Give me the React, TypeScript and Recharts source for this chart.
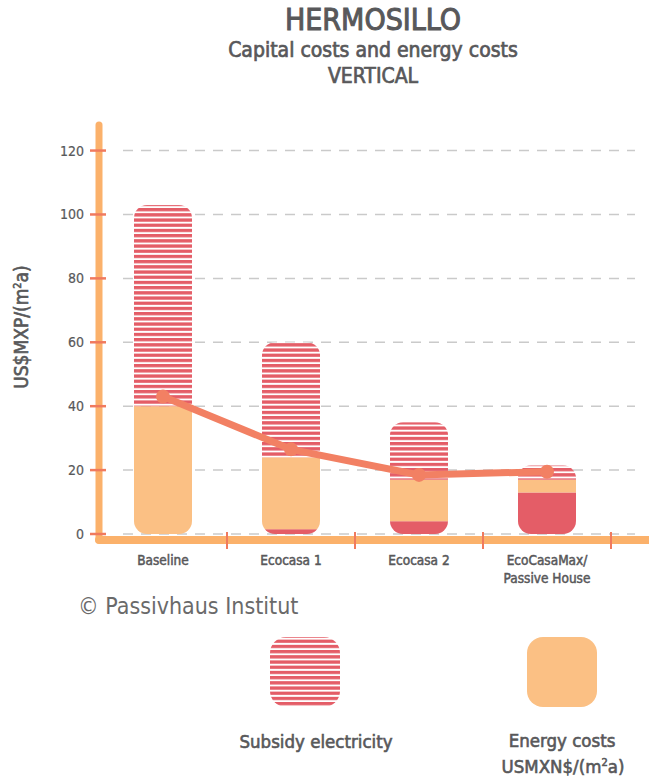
import React from 'react';
import { ComposedChart, Bar, Line, XAxis, YAxis, CartesianGrid } from 'recharts';

// values (US$MXP / m²a)
const categories = ['Baseline', 'Ecocasa 1', 'Ecocasa 2', 'EcoCasaMax/\nPassive House'];
const capitalCosts = [0, 1.5, 4, 13];
const energyCosts = [40, 22.5, 13, 4];
const subsidyElectricity = [63, 36, 18, 4.5];
const totalLine = [43, 26.5, 18.5, 19.5];
const yTicks = [0, 20, 40, 60, 80, 100, 120];

const RED = '#e45d67';
const ORANGE = '#fbc084';
const LINE = '#f28063';
const AXIS = '#fbb16b';
const TICK = '#f07a5e';
const TEXT = '#58585a';
const FONT = "'DejaVu Sans Condensed', 'Liberation Sans Narrow', 'Roboto', sans-serif";

const stackKeys = ['capital', 'energy', 'subsidy'];

const data = categories.map((name, i) => ({
  name,
  capital: capitalCosts[i],
  energy: energyCosts[i],
  subsidy: subsidyElectricity[i],
  total: totalLine[i],
}));

// each segment is clipped by a rounded rect spanning the whole stack
const stackSegment = (key: string, fill: string) => (p: any) => {
  const { x, y, width, height, payload, index } = p;
  const value = payload[key];
  if (!value || !height || height <= 0) return <g />;
  const ppu = height / value;
  const pos = stackKeys.indexOf(key);
  const below = stackKeys.slice(0, pos).reduce((s, k) => s + payload[k], 0);
  const above = stackKeys.slice(pos + 1).reduce((s, k) => s + payload[k], 0);
  const top = y - above * ppu;
  const bottom = y + height + below * ppu;
  const id = `clip-${key}-${index}`;
  return (
    <g>
      <defs>
        <clipPath id={id}>
          <rect x={x} y={top} width={width} height={bottom - top} rx={13} ry={13} />
        </clipPath>
      </defs>
      <rect x={x} y={y} width={width} height={height} fill={fill} clipPath={`url(#${id})`} />
    </g>
  );
};

const YTick = ({ x, y, payload }: any) => (
  <g>
    <line x1={x - 9} x2={x + 7} y1={y} y2={y} stroke={TICK} strokeWidth={2.5} />
    <text x={x - 15} y={y} dy={5} textAnchor="end" fill={TEXT} stroke={TEXT} strokeWidth={0.2} fontSize={14} fontFamily={FONT}>
      {payload.value}
    </text>
  </g>
);

const XTick = ({ x, y, payload }: any) => {
  const lines = String(payload.value).split('\n');
  const off = payload.offset ?? 64;
  return (
    <g>
      <line x1={x + off} x2={x + off} y1={y - 8} y2={y + 9} stroke={TICK} strokeWidth={2} />
      <text x={x} y={y + 25} textAnchor="middle" fill={TEXT} stroke={TEXT} strokeWidth={0.5} fontSize={13.5} fontFamily={FONT}>
        {lines.map((l, i) => (
          <tspan key={i} x={x} dy={i ? 18 : 0}>{l}</tspan>
        ))}
      </text>
    </g>
  );
};

// dashed grid, inset from the plot edges; skip the line at the domain top
const gridLine = (p: any) => {
  if (Math.abs(p.y1 - 125) < 3) return <g key={p.key ?? `g-${p.index}`} />;
  return (
    <line
      key={p.key ?? `g-${p.index}`}
      x1={p.x1 + 24}
      x2={p.x2 - 14}
      y1={p.y1}
      y2={p.y2}
      stroke="#cacaca"
      strokeWidth={1.5}
      strokeDasharray="10 8"
    />
  );
};

export default function App() {
  return (
    <div style={{ position: 'absolute', left: 0, top: 0, width: 649, height: 780, background: '#fff', fontFamily: FONT }}>
      <ComposedChart width={649} height={780} data={data} margin={{ top: 125, right: 0, bottom: 190, left: 0 }}>
        <CartesianGrid vertical={false} horizontal={gridLine} />
        <XAxis
          dataKey="name"
          height={50}
          padding={{ left: 0, right: 38 }}
          axisLine={{ stroke: AXIS, strokeWidth: 8, strokeLinecap: 'round' }}
          tickLine={false}
          tickSize={0}
          tickMargin={0}
          interval={0}
          tick={<XTick />}
        />
        <YAxis
          width={99}
          domain={[0, 128]}
          ticks={yTicks}
          interval={0}
          padding={{ top: 0, bottom: 6 }}
          axisLine={{ stroke: AXIS, strokeWidth: 7, strokeLinecap: 'round' }}
          tickLine={false}
          tickSize={0}
          tickMargin={0}
          tick={<YTick />}
        />
        <Bar dataKey="capital" stackId="a" barSize={58} fill={RED} shape={stackSegment('capital', RED)} isAnimationActive={false} />
        <Bar dataKey="energy" stackId="a" barSize={58} fill={ORANGE} shape={stackSegment('energy', ORANGE)} isAnimationActive={false} />
        <Bar dataKey="subsidy" stackId="a" barSize={58} fill="url(#stripes)" shape={stackSegment('subsidy', 'url(#stripes)')} isAnimationActive={false} />
        <Line
          dataKey="total"
          type="linear"
          stroke={LINE}
          strokeWidth={7}
          dot={{ r: 7, fill: LINE, stroke: 'none' }}
          activeDot={false}
          isAnimationActive={false}
        />
      </ComposedChart>

      <svg width={649} height={780} style={{ position: 'absolute', left: 0, top: 0, pointerEvents: 'none' }}>
        <defs>
          <pattern id="stripes" patternUnits="userSpaceOnUse" width={10} height={5.2}>
            <rect x={0} y={0} width={10} height={5.2} fill="#fff" />
            <rect x={0} y={0} width={10} height={3.3} fill={RED} />
          </pattern>
        </defs>

        <g fill={TEXT} stroke={TEXT} fontFamily={FONT} textAnchor="middle">
          <text x={373} y={30} fontSize={30} strokeWidth={1}>HERMOSILLO</text>
          <text x={373} y={57} fontSize={21} strokeWidth={0.7}>Capital costs and energy costs</text>
          <text x={373} y={83} fontSize={21} strokeWidth={0.7}>VERTICAL</text>
        </g>

        <text
          transform="translate(28 327) rotate(-90)"
          textAnchor="middle"
          fill={TEXT}
          stroke={TEXT}
          strokeWidth={0.6}
          fontFamily={FONT}
          fontSize={19}
        >
          US$MXP/(m<tspan fontSize={11} dy={-7}>2</tspan><tspan dy={7}>a)</tspan>
        </text>

        <text x={78} y={614} fill="#6a6a6a" fontFamily={FONT} fontSize={23}>© Passivhaus Institut</text>

        <rect x={270} y={637} width={70} height={70} rx={16} ry={16} fill="url(#stripes)" />
        <rect x={527} y={637} width={70} height={70} rx={16} ry={16} fill={ORANGE} />
        <g fill={TEXT} stroke={TEXT} strokeWidth={0.6} fontFamily={FONT} fontSize={18.5} textAnchor="middle">
          <text x={316} y={748}>Subsidy electricity</text>
          <text x={562} y={747}>Energy costs</text>
          <text x={563} y={773}>
            USMXN$/(m<tspan fontSize={11} dy={-7}>2</tspan><tspan dy={7}>a)</tspan>
          </text>
        </g>
      </svg>
    </div>
  );
}
